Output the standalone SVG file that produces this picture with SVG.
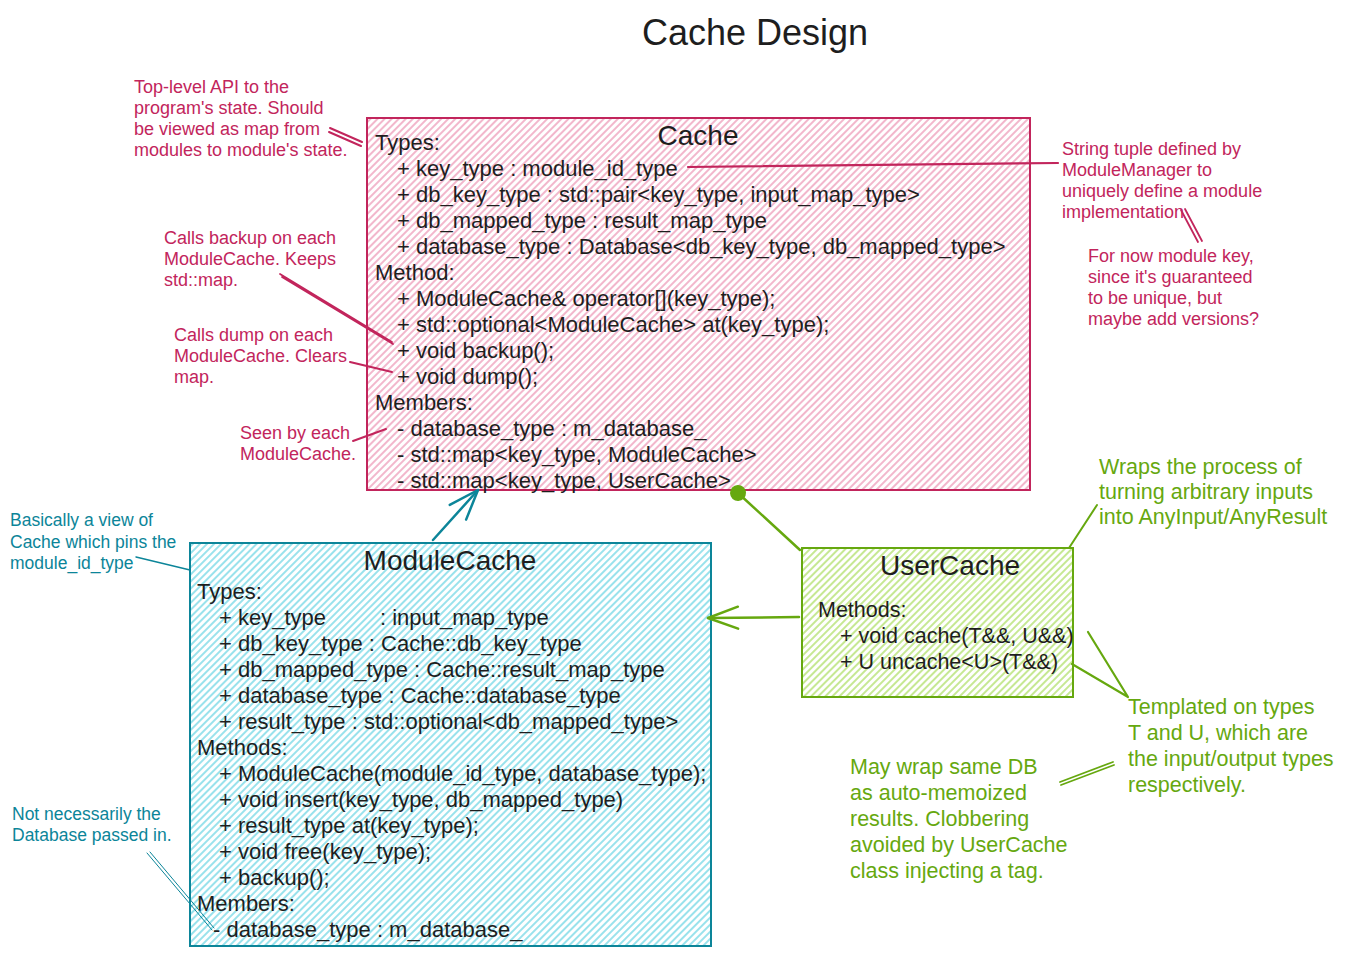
<svg xmlns="http://www.w3.org/2000/svg" width="1365" height="956" viewBox="0 0 1365 956">
<style>
  text { font-family: "Liberation Sans", "DejaVu Sans", sans-serif; }
  .title { font-size: 36px; fill: #1e1e1e; text-anchor: middle; }
  .ntitle { font-size: 28px; fill: #1e1e1e; text-anchor: middle; }
  .code { font-size: 22px; fill: #1e1e1e; }
  .ucode { font-size: 21.5px; fill: #1e1e1e; }
  .ann-red { font-size: 18px; fill: #c2255c; }
  .ann-teal { font-size: 17.5px; fill: #0c8599; }
  .ann-green { font-size: 21.5px; fill: #66a80f; }
  .ln-red { stroke: #c2255c; fill: none; stroke-linecap: round; }
  .ln-teal { stroke: #0c8599; fill: none; stroke-linecap: round; }
  .ln-green { stroke: #66a80f; fill: none; stroke-linecap: round; }
</style>
<defs>
  <pattern id="hatch-pink" width="5" height="5" patternUnits="userSpaceOnUse" patternTransform="rotate(45)">
    <line x1="1" y1="0" x2="1" y2="5" stroke="#ea86a9" stroke-width="1.2"/>
  </pattern>
  <pattern id="hatch-teal" width="5" height="5" patternUnits="userSpaceOnUse" patternTransform="rotate(45)">
    <line x1="1" y1="0" x2="1" y2="5" stroke="#55cfe0" stroke-width="1.2"/>
  </pattern>
  <pattern id="hatch-green" width="5" height="5" patternUnits="userSpaceOnUse" patternTransform="rotate(45)">
    <line x1="1" y1="0" x2="1" y2="5" stroke="#a0d84a" stroke-width="1.2"/>
  </pattern>
  <marker id="arrow-teal" viewBox="0 0 34 26" refX="32" refY="13" markerWidth="34" markerHeight="26" markerUnits="userSpaceOnUse" orient="auto">
    <path d="M2,2 L32,13 L2,24" fill="none" stroke="#0c8599" stroke-width="2.5" stroke-linecap="round" stroke-linejoin="round"/>
  </marker>
  <marker id="arrow-green" viewBox="0 0 34 26" refX="32" refY="13" markerWidth="34" markerHeight="26" markerUnits="userSpaceOnUse" orient="auto">
    <path d="M2,2 L32,13 L2,24" fill="none" stroke="#66a80f" stroke-width="2.5" stroke-linecap="round" stroke-linejoin="round"/>
  </marker>
  <marker id="dot-green" viewBox="0 0 20 20" refX="10" refY="10" markerWidth="20" markerHeight="20" markerUnits="userSpaceOnUse" orient="auto">
    <circle cx="10" cy="10" r="8" fill="#66a80f"/>
  </marker>
</defs>

<rect width="1365" height="956" fill="#ffffff"/>

<text class="title" x="755" y="45">Cache Design</text>

<g id="cache">
  <rect x="367" y="118" width="663" height="372" fill="url(#hatch-pink)" stroke="#c2255c" stroke-width="2"/>
  <text class="ntitle" x="698" y="145">Cache</text>
  <text class="code" x="375" y="150">Types:</text>
  <text class="code" x="397" y="176">+ key_type : module_id_type</text>
  <text class="code" x="397" y="202">+ db_key_type : std::pair&lt;key_type, input_map_type&gt;</text>
  <text class="code" x="397" y="228">+ db_mapped_type : result_map_type</text>
  <text class="code" x="397" y="254">+ database_type : Database&lt;db_key_type, db_mapped_type&gt;</text>
  <text class="code" x="375" y="280">Method:</text>
  <text class="code" x="397" y="306">+ ModuleCache&amp; operator[](key_type);</text>
  <text class="code" x="397" y="332">+ std::optional&lt;ModuleCache&gt; at(key_type);</text>
  <text class="code" x="397" y="358">+ void backup();</text>
  <text class="code" x="397" y="384">+ void dump();</text>
  <text class="code" x="375" y="410">Members:</text>
  <text class="code" x="397" y="436">- database_type : m_database_</text>
  <text class="code" x="397" y="462">- std::map&lt;key_type, ModuleCache&gt;</text>
  <text class="code" x="397" y="488">- std::map&lt;key_type, UserCache&gt;</text>
</g>

<g id="modulecache">
  <rect x="190" y="543" width="521" height="403" fill="url(#hatch-teal)" stroke="#0c8599" stroke-width="2"/>
  <text class="ntitle" x="450" y="570">ModuleCache</text>
  <text class="code" x="197" y="599">Types:</text>
  <text class="code" x="219" y="625">+ key_type</text>
  <text class="code" x="380" y="625">: input_map_type</text>
  <text class="code" x="219" y="651">+ db_key_type : Cache::db_key_type</text>
  <text class="code" x="219" y="677">+ db_mapped_type : Cache::result_map_type</text>
  <text class="code" x="219" y="703">+ database_type : Cache::database_type</text>
  <text class="code" x="219" y="729">+ result_type : std::optional&lt;db_mapped_type&gt;</text>
  <text class="code" x="197" y="755">Methods:</text>
  <text class="code" x="219" y="781">+ ModuleCache(module_id_type, database_type);</text>
  <text class="code" x="219" y="807">+ void insert(key_type, db_mapped_type)</text>
  <text class="code" x="219" y="833">+ result_type at(key_type);</text>
  <text class="code" x="219" y="859">+ void free(key_type);</text>
  <text class="code" x="219" y="885">+ backup();</text>
  <text class="code" x="197" y="911">Members:</text>
  <text class="code" x="213" y="937">- database_type : m_database_</text>
</g>

<g id="usercache">
  <rect x="802" y="548" width="271" height="149" fill="url(#hatch-green)" stroke="#66a80f" stroke-width="2"/>
  <text class="ntitle" x="950" y="575">UserCache</text>
  <text class="ucode" x="818" y="617">Methods:</text>
  <text class="ucode" x="840" y="643">+ void cache(T&amp;&amp;, U&amp;&amp;)</text>
  <text class="ucode" x="840" y="669">+ U uncache&lt;U&gt;(T&amp;&amp;)</text>
</g>

<g id="note-toplevel">
  <text class="ann-red" x="134" y="93">Top-level API to the</text>
  <text class="ann-red" x="134" y="114">program's state. Should</text>
  <text class="ann-red" x="134" y="135">be viewed as map from</text>
  <text class="ann-red" x="134" y="156">modules to module's state.</text>
</g>
<g id="note-backup">
  <text class="ann-red" x="164" y="244">Calls backup on each</text>
  <text class="ann-red" x="164" y="265">ModuleCache. Keeps</text>
  <text class="ann-red" x="164" y="286">std::map.</text>
</g>
<g id="note-dump">
  <text class="ann-red" x="174" y="341">Calls dump on each</text>
  <text class="ann-red" x="174" y="362">ModuleCache. Clears</text>
  <text class="ann-red" x="174" y="383">map.</text>
</g>
<g id="note-seen">
  <text class="ann-red" x="240" y="439">Seen by each</text>
  <text class="ann-red" x="240" y="460">ModuleCache.</text>
</g>
<g id="note-string">
  <text class="ann-red" x="1062" y="155">String tuple defined by</text>
  <text class="ann-red" x="1062" y="176">ModuleManager to</text>
  <text class="ann-red" x="1062" y="197">uniquely define a module</text>
  <text class="ann-red" x="1062" y="218">implementation</text>
</g>
<g id="note-fornow">
  <text class="ann-red" x="1088" y="262">For now module key,</text>
  <text class="ann-red" x="1088" y="283">since it's guaranteed</text>
  <text class="ann-red" x="1088" y="304">to be unique, but</text>
  <text class="ann-red" x="1088" y="325">maybe add versions?</text>
</g>
<g id="note-basically">
  <text class="ann-teal" x="10" y="526">Basically a view of</text>
  <text class="ann-teal" x="10" y="548">Cache which pins the</text>
  <text class="ann-teal" x="10" y="569">module_id_type</text>
</g>
<g id="note-notnecessarily">
  <text class="ann-teal" x="12" y="820">Not necessarily the</text>
  <text class="ann-teal" x="12" y="841">Database passed in.</text>
</g>
<g id="note-wraps">
  <text class="ann-green" x="1099" y="474">Wraps the process of</text>
  <text class="ann-green" x="1099" y="499">turning arbitrary inputs</text>
  <text class="ann-green" x="1099" y="524">into AnyInput/AnyResult</text>
</g>
<g id="note-templated">
  <text class="ann-green" x="1128" y="714">Templated on types</text>
  <text class="ann-green" x="1128" y="740">T and U, which are</text>
  <text class="ann-green" x="1128" y="766">the input/output types</text>
  <text class="ann-green" x="1128" y="792">respectively.</text>
</g>
<g id="note-maywrap">
  <text class="ann-green" x="850" y="774">May wrap same DB</text>
  <text class="ann-green" x="850" y="800">as auto-memoized</text>
  <text class="ann-green" x="850" y="826">results. Clobbering</text>
  <text class="ann-green" x="850" y="852">avoided by UserCache</text>
  <text class="ann-green" x="850" y="878">class injecting a tag.</text>
</g>

<g id="connectors">
  <path d="M433,540 L478,490" class="ln-teal" stroke-width="2.5" marker-end="url(#arrow-teal)"/>
  <path d="M799,617 L708,618" class="ln-green" stroke-width="2.5" marker-end="url(#arrow-green)"/>
  <path d="M800,550 L738,493" class="ln-green" stroke-width="2.5" marker-end="url(#dot-green)"/>

  <path d="M330,128 L362,142 M329,132 L361,146" class="ln-red" stroke-width="2"/>
  <path d="M280,274 L392,342 M282,277 L393,344" class="ln-red" stroke-width="1.8"/>
  <path d="M350,362 L392,372" class="ln-red" stroke-width="2"/>
  <path d="M353,441 L386,429" class="ln-red" stroke-width="2"/>
  <path d="M688,167 L1058,163" class="ln-red" stroke-width="2.2"/>
  <path d="M1181,210 L1198,242 M1185,209 L1202,241" class="ln-red" stroke-width="1.8"/>

  <path d="M136,557 L190,570" class="ln-teal" stroke-width="1.5"/>
  <path d="M147,853 L212,930 M150,852 L214,928" class="ln-teal" stroke-width="1"/>

  <path d="M1097,505 L1069,548" class="ln-green" stroke-width="2"/>
  <path d="M1088,632 L1128,697 M1072,664 L1128,697" class="ln-green" stroke-width="2.2"/>
  <path d="M1060,782 L1113,762 M1061,785 L1114,765" class="ln-green" stroke-width="1.8"/>
</g>
</svg>
